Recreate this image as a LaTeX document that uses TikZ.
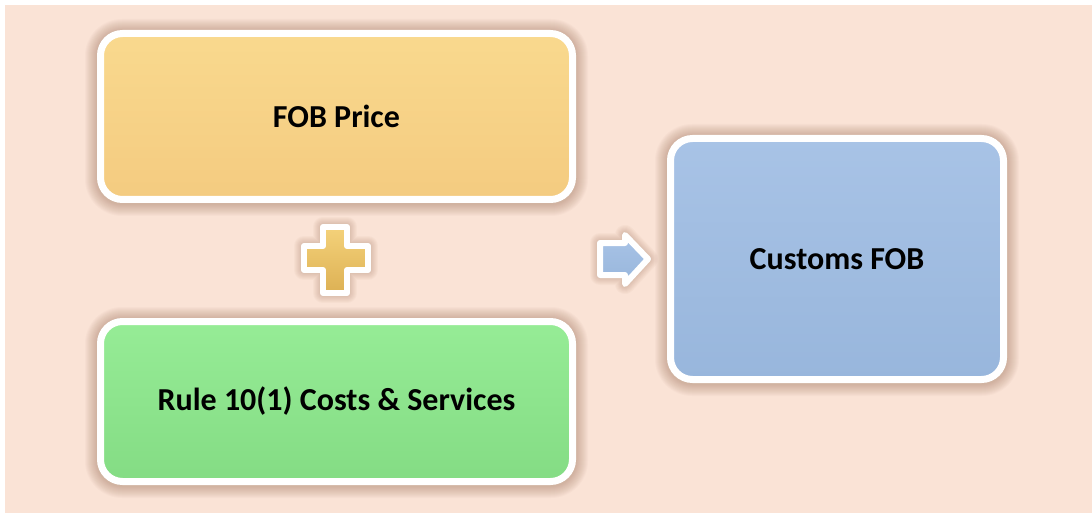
\documentclass[tikz,border=0pt]{standalone}
\usepackage{fontspec}
\setmainfont{Carlito}
\pgfdeclarelayer{back}
\pgfdeclarelayer{shade}
\pgfsetlayers{back,shade,main}
\definecolor{bg}{HTML}{FAE3D6}
\definecolor{orTop}{HTML}{F9D98E}
\definecolor{orBot}{HTML}{F4CB80}
\definecolor{grTop}{HTML}{96EC96}
\definecolor{grBot}{HTML}{84DC84}
\definecolor{blTop}{HTML}{A8C3E6}
\definecolor{blBot}{HTML}{98B6DC}
\definecolor{goldTop}{HTML}{F4D27A}
\definecolor{goldBot}{HTML}{DDB154}
\definecolor{shadowcol}{HTML}{8A5A40}
\tikzset{
  box/.style={draw=white, line width=7pt, rounded corners=22pt,
    font=\fontsize{32}{38}\selectfont\bfseries, text=black},
  symb/.style={draw=white, line width=6pt, line join=round},
  softline/.style={draw=shadowcol, draw opacity=0.035, line join=round}
}
\newcommand{\boxshadow}[1]{%
  \begin{pgfonlayer}{shade}
  \foreach \k in {1,...,12}{
    \fill[shadowcol, opacity=0.03, rounded corners={25pt+\k pt}]
      ([xshift=-\k pt, yshift=\k pt-1pt]#1.north west) rectangle
      ([xshift=\k pt, yshift=-\k pt-1pt]#1.south east);
  }
  \end{pgfonlayer}}
\def\plusPath{(323,227) -- (347,227) -- (347,246) -- (368,246) -- (368,270) -- (347,270)
  -- (347,293) -- (323,293) -- (323,270) -- (304,270) -- (304,246) -- (323,246) -- cycle}
\def\arrowPath{(600,243) -- (625,243) -- (625,235) -- (648,259) -- (625,284) -- (625,275) -- (600,275) -- cycle}
\begin{document}
\begin{tikzpicture}[x=1pt,y=-1pt]
\begin{pgfonlayer}{back}
\useasboundingbox (0,0) rectangle (1092,513);
\fill[white] (0,0) rectangle (1092,513);
\fill[bg] (5,5) rectangle (1092,513);
\end{pgfonlayer}

\node[box, top color=orTop, bottom color=orBot, minimum width=472pt, minimum height=166pt] (fob) at (336.5,116.5) {FOB Price};
\node[box, top color=grTop, bottom color=grBot, minimum width=472pt, minimum height=160pt] (rule) at (336.5,401.5) {Rule 10(1) Costs \& Services};
\node[box, top color=blTop, bottom color=blBot, minimum width=333pt, minimum height=241pt] (cfob) at (837,259) {Customs FOB};
\boxshadow{fob}
\boxshadow{rule}
\boxshadow{cfob}

% soft shadows of the symbols
\begin{pgfonlayer}{shade}
\foreach \k in {1,...,7}{
  \path[softline, line width={6pt+2*\k pt}] \plusPath;
  \path[softline, line width={6pt+2*\k pt}] \arrowPath;
}
\end{pgfonlayer}

% plus sign
\path[symb, top color=goldTop, bottom color=goldBot] \plusPath;

% arrow
\path[symb, top color=blTop, bottom color=blBot] \arrowPath;
\end{tikzpicture}
\end{document}
